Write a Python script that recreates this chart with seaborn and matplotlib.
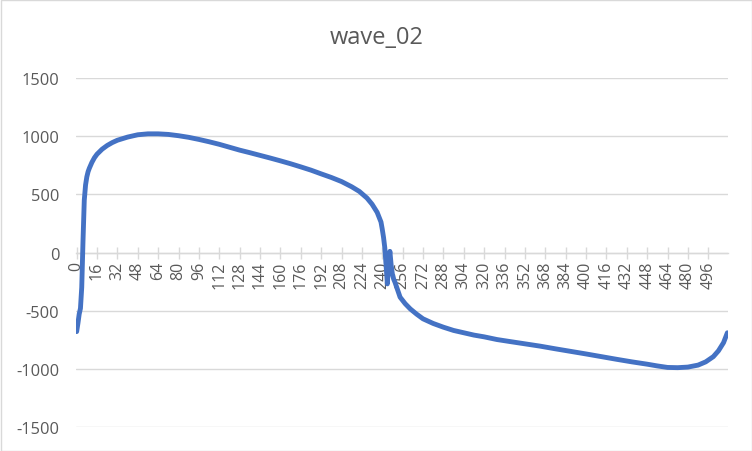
import matplotlib
matplotlib.use("Agg")
import matplotlib.pyplot as plt
import seaborn as sns
import pandas as pd
from matplotlib.patches import Rectangle

# ---- data ----
sample_index = [0, 1, 2, 3, 4, 5, 6, 7, 8, 9, 10, 12, 14, 16, 20, 24, 28, 32, 40, 48,
                56, 64, 72, 80, 88, 96, 104, 112, 120, 128, 136, 144, 152, 160, 168,
                176, 184, 192, 200, 208, 216, 222, 228, 232, 236, 239, 240, 241, 242,
                243, 244, 245, 246, 247, 248, 249, 250, 252, 254, 258, 262, 267, 272,
                280, 288, 296, 304, 312, 320, 330, 340, 352, 364, 376, 388, 400, 412,
                424, 436, 448, 456, 464, 472, 480, 488, 494, 500, 504, 508, 511]
wave_values = [-680, -610, -530, -480, -300, 100, 450, 580, 650, 695, 725, 775, 815, 845,
               888, 920, 945, 965, 992, 1012, 1020, 1020, 1015, 1004, 990, 972, 952,
               930, 905, 880, 858, 835, 812, 788, 763, 736, 708, 676, 645, 610, 565,
               525, 468, 415, 345, 262, 200, 130, 40, -110, -270, -80, 10, -110, -190,
               -230, -256, -320, -384, -440, -485, -530, -570, -610, -642, -670, -690,
               -710, -725, -748, -765, -785, -805, -828, -850, -872, -895, -918, -940,
               -960, -975, -988, -990, -985, -968, -940, -895, -845, -775, -690]
x_ticks = list(range(0, 512, 16))
y_ticks = [-1500, -1000, -500, 0, 500, 1000, 1500]
title_text = "wave_02"

df = pd.DataFrame({"index": sample_index, "value": wave_values})

sns.set_theme(style="white")
plt.rcParams["font.family"] = ["Open Sans", "DejaVu Sans"]

text_color = "#595959"
grid_color = "#d9d9d9"

fig = plt.figure(figsize=(7.52, 4.52), dpi=100)
ax = fig.add_axes([76 / 752, 24 / 452, 652 / 752, 349 / 452])

for yv in y_ticks:
    ax.axhline(yv, color=grid_color, lw=1.0, zorder=0)

sns.lineplot(data=df, x="index", y="value", ax=ax, color="#4472C4", lw=3.5,
             estimator=None, sort=False, zorder=3,
             solid_capstyle="round", solid_joinstyle="round")

ax.set_xlim(-0.5, 511.5)
ax.set_ylim(-1500, 1500)
ax.set_yticks(y_ticks)
ax.set_yticklabels([str(v) for v in y_ticks])
ax.set_xticks(x_ticks)
ax.set_xticklabels([str(v) for v in x_ticks])

for s in ["left", "right", "top"]:
    ax.spines[s].set_visible(False)
ax.spines["bottom"].set_position(("data", 0))
ax.spines["bottom"].set_color(grid_color)
ax.spines["bottom"].set_linewidth(1.0)
ax.spines["bottom"].set_zorder(1)

ax.tick_params(axis="x", direction="inout", length=8, width=1.0, color=grid_color,
               labelsize=11.5, labelcolor=text_color, pad=2, bottom=True,
               labelrotation=90)
ax.tick_params(axis="y", length=0, labelsize=11.8, labelcolor=text_color, pad=12)
ax.set_xlabel("")
ax.set_ylabel("")

fig.text(377 / 752, 1 - 38 / 452, title_text, ha="center", va="center",
         fontsize=17, color=text_color)

fig.patches.append(Rectangle((0.5 / 752, 0.5 / 452), 751 / 752, 451 / 452,
                             transform=fig.transFigure, fill=False,
                             edgecolor=grid_color, lw=1.0))

fig.savefig("out.png", dpi=100)
